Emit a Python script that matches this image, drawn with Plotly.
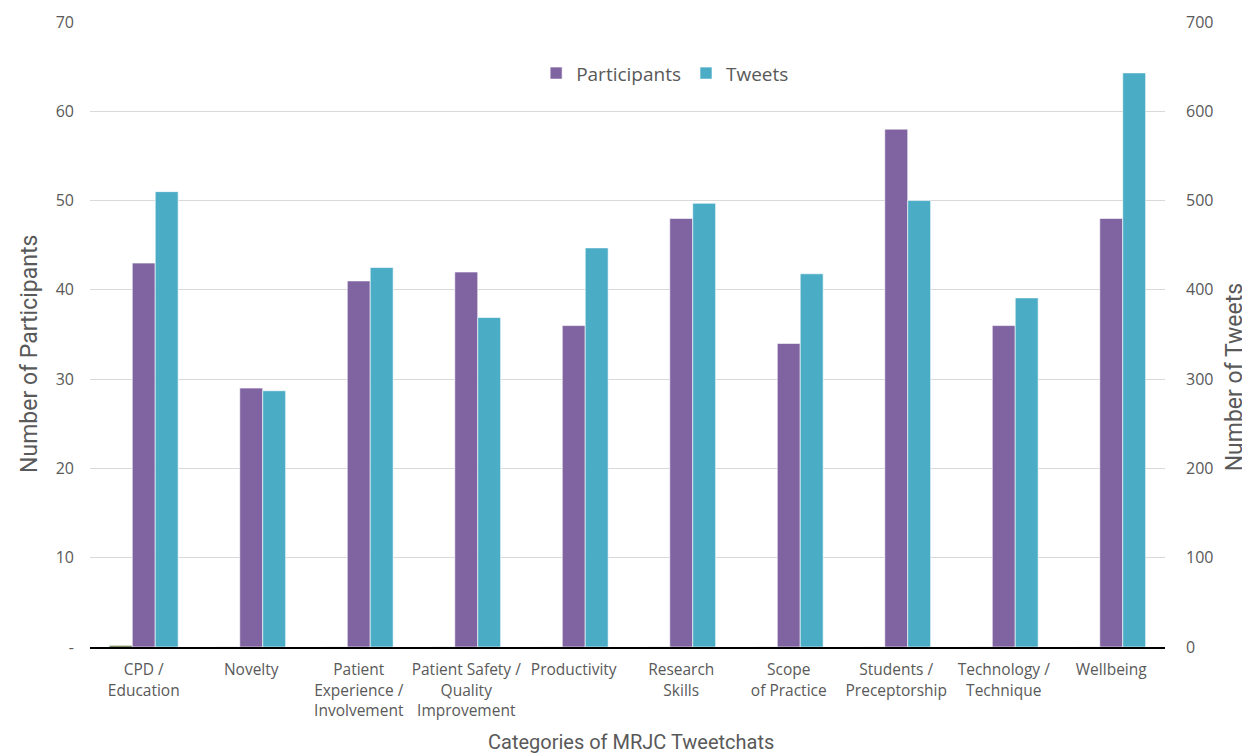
import plotly.graph_objects as go

categories = ["CPD /<br>Education", "Novelty", "Patient<br>Experience /<br>Involvement",
              "Patient Safety /<br>Quality<br>Improvement", "Productivity", "Research<br>Skills",
              "Scope<br>of Practice", "Students /<br>Preceptorship", "Technology /<br>Technique",
              "Wellbeing"]
participants = [43, 29, 41, 42, 36, 48, 34, 58, 36, 48]
tweets = [510, 287, 425, 369, 447, 497, 418, 500, 391, 643]
hidden_series = [0.15, 0, 0, 0, 0, 0, 0, 0, 0, 0]

left_ticks = [0, 10, 20, 30, 40, 50, 60, 70]
left_labels = ["-", "10", "20", "30", "40", "50", "60", "70"]
right_ticks = [0, 100, 200, 300, 400, 500, 600, 700]

grey = "#595959"
tickfont = dict(family="Open Sans, Noto Sans, sans-serif", size=16, color=grey)
xtickfont = dict(family="Open Sans, Noto Sans, sans-serif", size=15.5, color=grey)
ytitlefont = dict(family="Roboto, sans-serif", size=23, color=grey)
xtitlefont = dict(family="Roboto, sans-serif", size=20, color=grey)

fig = go.Figure()
fig.add_trace(go.Bar(x=categories, y=hidden_series, name="Series", marker_color="#4f6228",
                     offsetgroup="0", yaxis="y", showlegend=False))
fig.add_trace(go.Bar(x=categories, y=participants, name="Participants", marker_color="#8064a2",
                     marker_line=dict(color="rgba(255,255,255,0.6)", width=1),
                     offsetgroup="1", yaxis="y"))
fig.add_trace(go.Bar(x=categories, y=tweets, name="Tweets", marker_color="#4bacc6",
                     marker_line=dict(color="rgba(255,255,255,0.6)", width=1),
                     offsetgroup="2", yaxis="y2"))

fig.update_layout(
    width=1242, height=746,
    margin=dict(l=82, r=85, t=14, b=107, autoexpand=False),
    paper_bgcolor="white", plot_bgcolor="white",
    barmode="group", bargap=0.36, bargroupgap=0,
    font=dict(family="Open Sans, Noto Sans, sans-serif", color=grey),
    legend=dict(orientation="h", x=0.535, y=0.918, xanchor="center", yanchor="middle",
                font=dict(family="Open Sans, Noto Sans, sans-serif", size=19, color=grey),
                itemwidth=30, bgcolor="rgba(0,0,0,0)"),
    xaxis=dict(
        tickfont=xtickfont, showline=True, linecolor="black", linewidth=1.5,
        ticks="", showgrid=False, tickangle=0, automargin=False, ticklabelstandoff=8,
    ),
    yaxis=dict(
        range=[0, 70], tickvals=left_ticks, ticktext=left_labels, tickfont=tickfont,
        showgrid=True, gridcolor="#d9d9d9", gridwidth=1, zeroline=False, showline=False,
        ticks="", ticklabelstandoff=15, automargin=False,
    ),
    yaxis2=dict(
        range=[0, 700], tickvals=right_ticks, tickfont=tickfont, overlaying="y", side="right",
        showgrid=False, zeroline=False, showline=False, ticks="", ticklabelstandoff=20,
        automargin=False,
    ),
    annotations=[
        dict(text="Number of Participants", xref="paper", yref="paper", x=-0.0558, y=0.469,
             xanchor="center", yanchor="middle", textangle=-90, showarrow=False, font=ytitlefont),
        dict(text="Number of Tweets", xref="paper", yref="paper", x=1.0645, y=0.432,
             xanchor="center", yanchor="middle", textangle=-90, showarrow=False, font=ytitlefont),
        dict(text="Categories of MRJC Tweetchats", xref="paper", yref="paper", x=0.503, y=-0.152,
             xanchor="center", yanchor="middle", showarrow=False, font=xtitlefont),
    ],
)

fig.write_html("out.html")
